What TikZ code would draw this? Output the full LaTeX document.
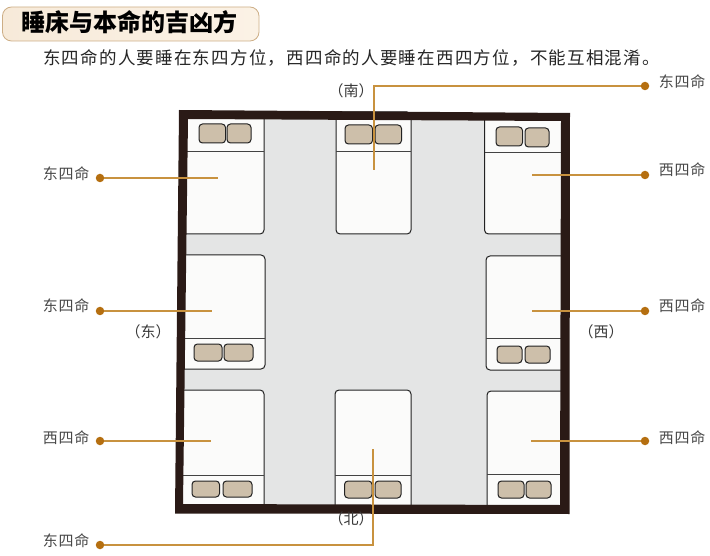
\documentclass[tikz,border=0pt]{standalone}
\usepackage{fontspec}
\newfontfamily\cjk{Noto Sans CJK SC}
\newfontfamily\cjklab[LetterSpace=5]{Noto Sans CJK SC}
\newfontfamily\cjkbody[LetterSpace=7]{Noto Sans CJK SC}
\definecolor{wallc}{HTML}{2A1A16}
\definecolor{floorc}{HTML}{E4E5E5}
\definecolor{bedc}{HTML}{FBFBFA}
\definecolor{pillowc}{HTML}{CDBFAA}
\definecolor{inkc}{HTML}{222222}
\definecolor{dotc}{HTML}{B56F10}
\definecolor{leadc}{HTML}{C8923F}
\definecolor{pilla}{HTML}{F7EAD9}
\definecolor{pillb}{HTML}{FBF2E6}
\definecolor{pilld}{HTML}{CDAE86}
\tikzset{
  x=1pt,y=-1pt,
  bedbox/.style={draw=inkc,line width=1pt,fill=bedc,rounded corners=4pt},
  pillow/.style={draw=inkc,line width=1pt,fill=pillowc,rounded corners=3.5pt},
  headline/.style={draw=inkc!85,line width=0.9pt},
  dotnode/.style={circle,fill=dotc,inner sep=0pt,minimum size=8.5pt},
  leader/.style={draw=leadc,line width=1.2pt},
  sidelabel/.style={inner sep=0pt,text=black!72,font=\cjklab\fontsize{15}{17}\selectfont},
  dirlabel/.style={inner sep=0pt,text=black!78,font=\cjk\fontsize{15}{17}\selectfont},
}
\newcommand{\bedat}[5]{% x1 y1 x2 y2 headline-y
  \draw[bedbox] (#1,#2) rectangle (#3,#4);
  \draw[headline] (#1,#5) -- (#3,#5);
}
\newcommand{\pillowat}[4]{\draw[pillow] (#1,#2) rectangle (#3,#4);}
\begin{document}
\begin{tikzpicture}
\useasboundingbox (0,0) rectangle (710,556);
% title
\draw[draw=pilld,line width=0.8pt,left color=pilla,right color=pillb,rounded corners=9pt] (2.5,7) rectangle (259,41);
\node[inner sep=0pt,anchor=center,font=\cjk\bfseries\fontsize{24}{26}\selectfont,text=black] (title) at (129.5,22.5) {睡床与本命的吉凶方};
\node[inner sep=0pt,anchor=west,text=black!85,font=\cjkbody\fontsize{17.5}{20}\selectfont] (intro) at (43,58) {东四命的人要睡在东四方位，西四命的人要睡在西四方位，不能互相混淆。};
% floor
\fill[floorc] (182,114) -- (566,116) -- (565,509) -- (179,509) -- cycle;
% beds
\bedat{180}{112}{264}{234}{151}
\pillowat{199}{124}{225.5}{143}\pillowat{227}{124}{251}{143}
\bedat{336}{112}{411}{234}{151}
\pillowat{345}{125}{372.5}{144}\pillowat{375}{125}{401.5}{144}
\bedat{484.5}{114}{566}{234}{152}
\pillowat{496}{127}{522.5}{146}\pillowat{525}{128}{549}{147}
\bedat{180}{255}{265}{369}{338}
\pillowat{194}{344}{222}{361}\pillowat{224}{344}{253}{361}
\bedat{486}{256}{566}{370}{338}
\pillowat{497}{346}{522}{363}\pillowat{525}{346}{550}{363}
\bedat{178}{390}{264}{510}{475}
\pillowat{192}{481}{219.5}{497}\pillowat{223}{481}{252}{497}
\bedat{335}{390}{411}{510}{475}
\pillowat{344.5}{481}{372}{498}\pillowat{375}{481}{401}{498}
\bedat{487}{391}{566}{510}{474}
\pillowat{498}{481}{524}{498}\pillowat{526}{481}{551}{498}
% walls
\fill[wallc,even odd rule] (179,110) -- (570,113) -- (569.5,514) -- (175,513.5) -- cycle
  (188,119) -- (561,121) -- (560,505) -- (183,504) -- cycle;
% direction labels
\node[dirlabel] (south) at (351,91) {（南）};
\node[dirlabel] (east) at (148,332) {（东）};
\node[dirlabel] (west) at (601,332) {（西）};
\node[dirlabel] (north) at (351,519) {（北）};
% side labels and dots
\node[sidelabel] (l1) at (66,173.5) {东四命};
\node[sidelabel] (l2) at (66,305.5) {东四命};
\node[sidelabel] (l3) at (66,438) {西四命};
\node[sidelabel] (l4) at (66,541) {东四命};
\node[sidelabel] (r1) at (682,82) {东四命};
\node[sidelabel] (r2) at (682,170) {西四命};
\node[sidelabel] (r3) at (682,305.5) {西四命};
\node[sidelabel] (r4) at (682,438) {西四命};
\node[dotnode] (d1) at (100,178) {};
\node[dotnode] (d2) at (100,311) {};
\node[dotnode] (d3) at (100,441) {};
\node[dotnode] (d4) at (100,545) {};
\node[dotnode] (e1) at (645,86) {};
\node[dotnode] (e2) at (645,175) {};
\node[dotnode] (e3) at (645,311) {};
\node[dotnode] (e4) at (645,441) {};
\coordinate (t1) at (218,178);
\coordinate (t2) at (212,311);
\coordinate (t3) at (211,441);
\coordinate (t4) at (373,449);
\coordinate (u1) at (374,170);
\coordinate (u2) at (532,175);
\coordinate (u3) at (532,311);
\coordinate (u4) at (531,441);
\draw[leader] (d1) -- (t1);
\draw[leader] (d2) -- (t2);
\draw[leader] (d3) -- (t3);
\draw[leader] (d4) -| (t4);
\draw[leader] (e1) -| (u1);
\draw[leader] (e2) -- (u2);
\draw[leader] (e3) -- (u3);
\draw[leader] (e4) -- (u4);
\end{tikzpicture}
\end{document}
